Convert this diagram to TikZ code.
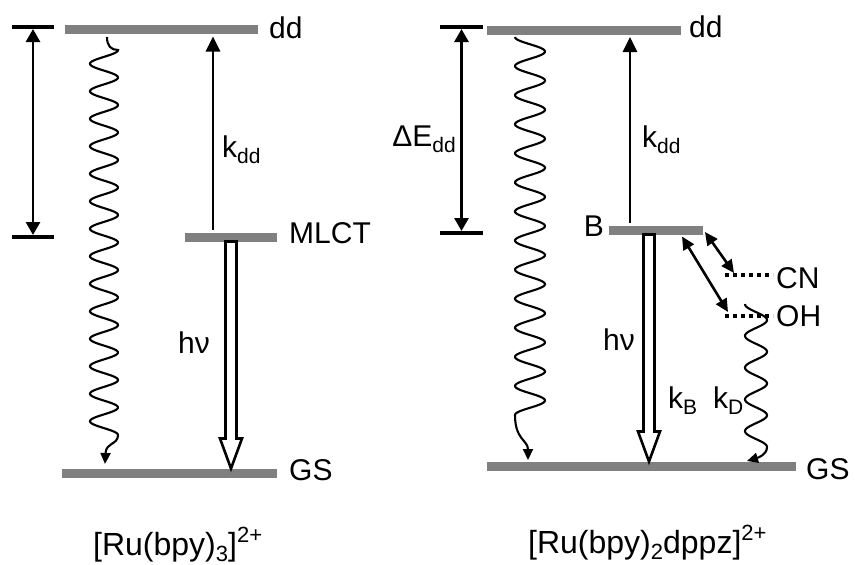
\documentclass[tikz,border=0pt]{standalone}
\usepackage{fontspec}
\setmainfont{Liberation Sans}
\usetikzlibrary{arrows.meta,calc}
\definecolor{levelgray}{RGB}{128,128,128}
\newcommand{\sbs}[1]{\raisebox{-0.2em}{\fontsize{21}{21}\selectfont #1}}
\newcommand{\csub}[1]{\raisebox{-0.2em}{\fontsize{22}{22}\selectfont #1}}
\newcommand{\csup}[1]{\raisebox{0.4em}{\fontsize{22}{22}\selectfont #1}}
\begin{document}
\begin{tikzpicture}[x=1pt,y=-1pt,
  bar/.style={fill=levelgray, draw=none, minimum height=9pt, inner sep=0pt, outer sep=0pt},
  lbl/.style={font=\fontsize{30}{32}\selectfont, inner sep=0pt},
  captxt/.style={font=\fontsize{32}{34}\selectfont, inner sep=0pt},
  tickline/.style={line width=3.5pt},
  arr/.style={line width=2.8pt, -{Triangle[length=15pt,width=14pt]}},
  dblarr/.style={line width=2.8pt, {Triangle[length=13pt,width=14pt]}-{Triangle[length=13pt,width=14pt]}},
  smallarr/.style={line width=2.6pt, {Triangle[length=13pt,width=12pt]}-{Triangle[length=13pt,width=12pt]}},
  wave/.style={line width=2.1pt, -{Triangle[length=11pt,width=10pt]}},
  hollow/.style={line width=2.6pt, fill=white, line join=miter},
  dotline/.style={line width=3.5pt, dash pattern=on 4pt off 4pt}
]
\useasboundingbox (0,0) rectangle (855,565);

% ---------- levels ----------
\node[bar, minimum width=193pt] (ddL) at (161.5,29) {};
\node[bar, minimum width=92pt] (mlct) at (231,237) {};
\node[bar, minimum width=215pt] (gsL) at (169.5,473) {};
\node[bar, minimum width=194pt] (ddR) at (584,30) {};
\node[bar, minimum width=94pt] (Bl) at (656,230) {};
\node[bar, minimum width=309pt] (gsR) at (641.5,466) {};

% ---------- level labels ----------
\node[lbl, anchor=west] (ddLt) at (269,28) {dd};
\node[lbl, anchor=west] (mlctt) at (289,233) {MLCT};
\node[lbl, anchor=west] (gsLt) at (289,470) {GS};
\node[lbl, anchor=west] (ddRt) at (689,27) {dd};
\node[lbl, anchor=east] (Bt) at (604,226) {B};
\node[lbl, anchor=west] (gsRt) at (806,469) {GS};
\node[lbl, anchor=west] (CNt) at (776,278) {CN};
\node[lbl, anchor=west] (OHt) at (776,316) {OH};

% ---------- rate labels ----------
\node[lbl, anchor=base west] (kddL) at (222,157) {k\sbs{dd}};
\node[lbl, anchor=base west] (kddR) at (642,147) {k\sbs{dd}};
\node[lbl, anchor=base west] (hnL) at (178,353) {hν};
\node[lbl, anchor=base west] (hnR) at (603,350) {hν};
\node[lbl, anchor=base west] (kB) at (668,408) {k\sbs{B}};
\node[lbl, anchor=base west] (kD) at (713,408) {k\sbs{D}};
\node[lbl, anchor=base east] (dE) at (456,146) {ΔE\sbs{dd}};

% ---------- captions ----------
\node[captxt, anchor=base west] (capL) at (93,555) {[Ru(bpy)\csub{3}]\csup{2+}};
\node[captxt, anchor=base west] (capR) at (528,553) {[Ru(bpy)\csub{2}dppz]\csup{2+}};

% ---------- energy gap brackets ----------
\coordinate (brLt) at (33,27);
\coordinate (brLb) at (33,237);
\coordinate (brRt) at (461.5,27);
\coordinate (brRb) at (461.5,233);
\draw[tickline] ($(brLt)+(-21,0)$) -- ($(brLt)+(21,0)$);
\draw[tickline] ($(brLb)+(-21,0)$) -- ($(brLb)+(21,0)$);
\draw[tickline] ($(brRt)+(-21.5,0)$) -- ($(brRt)+(21.5,0)$);
\draw[tickline] ($(brRb)+(-21.5,0)$) -- ($(brRb)+(21.5,0)$);
\draw[dblarr, shorten <=2pt, shorten >=2pt] (brLt) -- (brLb);
\draw[dblarr, shorten <=2pt, shorten >=2pt] (brRt) -- (brRb);

% ---------- k_dd arrows ----------
\coordinate (kxL) at (213,0);
\coordinate (kxR) at (630,0);
\draw[arr, shorten <=3pt, shorten >=3pt] (mlct.north -| kxL) -- (ddL.south -| kxL);
\draw[arr, shorten <=3pt, shorten >=2.5pt] (Bl.north -| kxR) -- (ddR.south -| kxR);

% ---------- hollow emission arrows ----------
\coordinate (hxL) at (231,0);
\coordinate (hxR) at (649,0);
\coordinate (hLt) at (mlct.south -| hxL);
\coordinate (hLb) at (gsL.north -| hxL);
\coordinate (hRt) at (Bl.south -| hxR);
\coordinate (hRb) at (gsR.north -| hxR);
\draw[hollow] ($(hLt)+(-5.5,0)$) -- ($(hLb)+(-5.5,-30)$) -- ($(hLb)+(-11,-30)$) -- (hLb)
  -- ($(hLb)+(11,-30)$) -- ($(hLb)+(5.5,-30)$) -- ($(hLt)+(5.5,0)$) -- cycle;
\draw[hollow] ($(hRt)+(-5.5,0)$) -- ($(hRb)+(-5.5,-30)$) -- ($(hRb)+(-11,-30)$) -- (hRb)
  -- ($(hRb)+(11,-30)$) -- ($(hRb)+(5.5,-30)$) -- ($(hRt)+(5.5,0)$) -- cycle;

% ---------- wavy non-radiative decays ----------
\draw[wave] (107,37) .. controls (107,46) and (111,50) .. (118,50)
  -- plot[domain=50:435, samples=400] ({104+14*cos((\x-50)/27.5*360)},\x)
  .. controls (118,445) and (106,442) .. (105,464);
\draw[wave] plot[domain=37:415, samples=400] ({530-15*cos((\x-37)/29.08*360)},\x)
  .. controls (515,440) and (528,440) .. (528,460);
\draw[wave] plot[domain=304:447, samples=200] ({756+11*cos((\x-320)/31.75*360)},\x)
  .. controls (767,455) and (757,458) .. (747,461);

% ---------- CN / OH states ----------
\coordinate (cnL) at (725,275);
\coordinate (cnR) at (773,275);
\coordinate (ohL) at (725,316);
\coordinate (ohR) at (773,316);
\draw[dotline] (cnL) -- (cnR);
\draw[dotline] (ohL) -- (ohR);
\draw[smallarr] ($(Bl.east)+(2,2)$) -- ($(cnL)+(9,-2)$);
\draw[smallarr] ($(Bl.south east)+(-21,2)$) -- ($(ohL)+(3,-4)$);
\end{tikzpicture}
\end{document}
